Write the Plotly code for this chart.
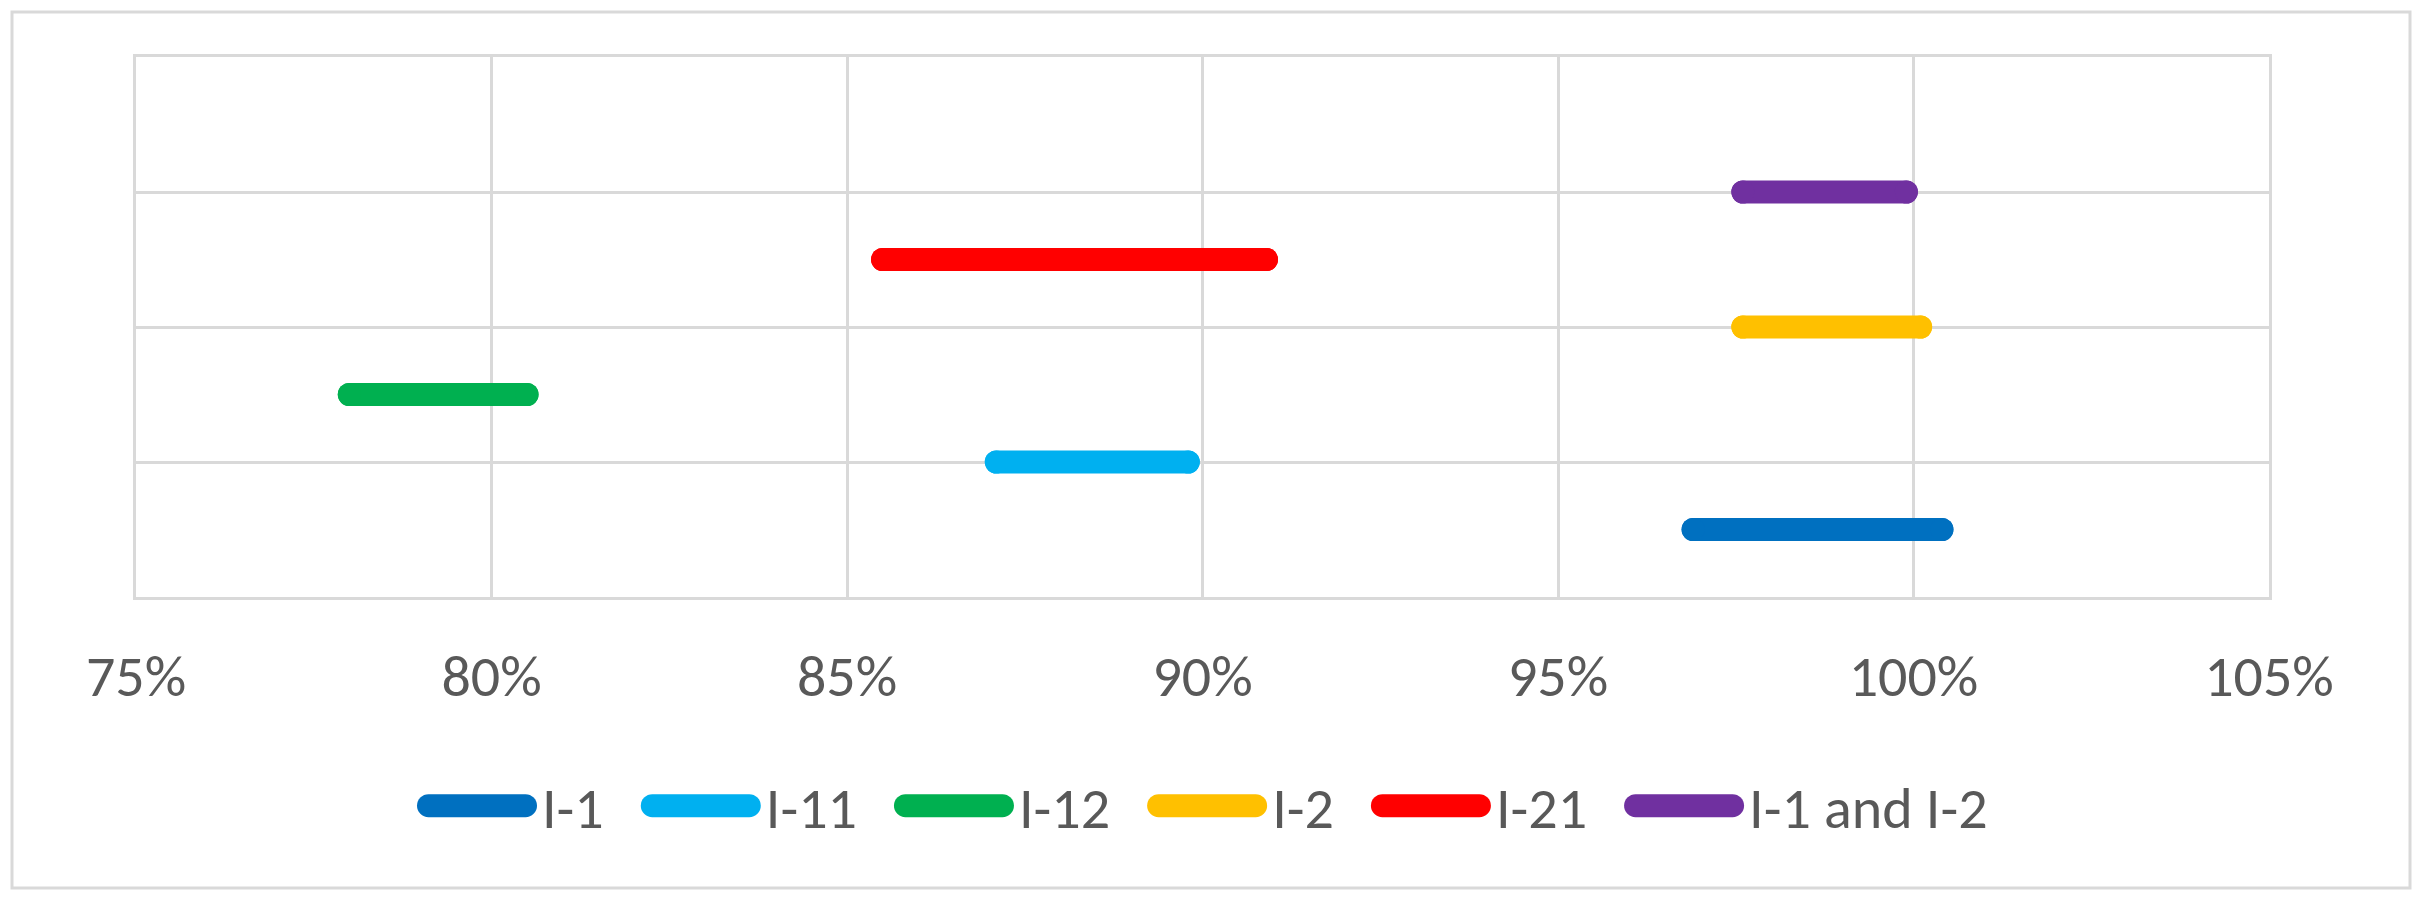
import plotly.graph_objects as go

# ---- data ----
series_names = ["I-1", "I-11", "I-12", "I-2", "I-21", "I-1 and I-2"]
series_y = [0.5, 1.0, 1.5, 2.0, 2.5, 3.0]
range_start = [0.969, 0.871, 0.780, 0.976, 0.855, 0.976]
range_end = [1.004, 0.898, 0.805, 1.001, 0.909, 0.999]
series_colors = ["#0070C0", "#00B0F0", "#00B050", "#FFC000", "#FF0000", "#7030A0"]

x_ticks = [0.75, 0.80, 0.85, 0.90, 0.95, 1.00, 1.05]
x_tick_labels = ["75%", "80%", "85%", "90%", "95%", "100%", "105%"]

# page body has an 8px default margin -> figure is 8px smaller, offsets reduced by 8
OFF = 8
W, H = 2425 - OFF, 911 - OFF
ML, MR, MT, MB = 136 - OFF, 156, 57 - OFF, 314
GRID = "#D9D9D9"
TEXT = "#595959"
FONT = "Calibri, Carlito, Lato, sans-serif"
FS = 58
LW = 23
LEGEND_EXTRA_GAP = 27

fig = go.Figure()
for name, yv, x0, x1, col in zip(series_names, series_y, range_start, range_end, series_colors):
    fig.add_trace(go.Scatter(
        x=[x0, x1], y=[yv, yv], mode="lines", name=name, legendgroup=name,
        line=dict(color=col, width=LW), hoverinfo="name+x",
    ))
    # rounded line caps
    fig.add_trace(go.Scatter(
        x=[x0, x1], y=[yv, yv], mode="markers", name=name, legendgroup=name,
        showlegend=False, hoverinfo="skip",
        marker=dict(color=col, size=LW, symbol="circle", line=dict(width=0)),
    ))

pw = W - ML - MR
ph = H - MT - MB
pb = H - MB  # pixel y of plot bottom (div coords)
# outer chart-area border (decoration)
fig.add_shape(type="rect", xref="paper", yref="paper",
              x0=(12 - OFF - ML) / pw, x1=(2410 - OFF - ML) / pw,
              y0=-(888 - OFF - pb) / ph, y1=(pb - (12 - OFF)) / ph,
              line=dict(color=GRID, width=3), fillcolor="rgba(0,0,0,0)", layer="below")

fig.update_layout(
    width=W, height=H,
    margin=dict(l=ML, r=MR, t=MT, b=MB, pad=0),
    paper_bgcolor="white", plot_bgcolor="white",
    font=dict(family=FONT, color=TEXT, size=FS),
    showlegend=True,
    legend=dict(orientation="h", x=0.5, xanchor="center",
                y=-(806 - OFF - pb) / ph, yanchor="middle",
                font=dict(family=FONT, size=FS, color=TEXT), itemwidth=120,
                bgcolor="rgba(0,0,0,0)", tracegroupgap=0),
    xaxis=dict(range=[0.75, 1.05], tickvals=x_ticks, ticktext=x_tick_labels,
               showgrid=True, gridcolor=GRID, gridwidth=3,
               showline=True, linecolor=GRID, linewidth=3, mirror=True,
               zeroline=False, ticks="outside", ticklen=26, tickcolor="rgba(0,0,0,0)",
               tickfont=dict(family=FONT, size=FS, color=TEXT)),
    yaxis=dict(range=[0, 4], dtick=1, showticklabels=False,
               showgrid=True, gridcolor=GRID, gridwidth=3,
               showline=True, linecolor=GRID, linewidth=3, mirror=True,
               zeroline=False),
)

post = """
var gd = document.getElementById('{plot_id}');
var half = %f;
gd.querySelectorAll('.legend .legendlines path').forEach(function(p){
  var d = p.getAttribute('d') || '';
  var m = d.match(/M([\\d.\\-]+),([\\d.\\-]+)h([\\d.\\-]+)/);
  if (m) {
    var x = parseFloat(m[1]), y = parseFloat(m[2]), l = parseFloat(m[3]);
    p.setAttribute('d', 'M' + (x + half) + ',' + y + 'h' + Math.max(l - 2*half, 1));
  }
  p.style.strokeWidth = '%dpx';
  p.style.strokeLinecap = 'round';
});
gd.querySelectorAll('.scatterlayer .js-line').forEach(function(p){ p.style.strokeLinecap = 'round'; });
var items = gd.querySelectorAll('.legend .traces');
var n = items.length, g = %f;
items.forEach(function(t, i){
  var tr = t.getAttribute('transform') || '';
  var m = tr.match(/translate\\(([\\d.\\-]+)[,\\s]+([\\d.\\-]+)\\)/);
  if (m) {
    t.setAttribute('transform', 'translate(' + (parseFloat(m[1]) + i*g - (n-1)*g/2) + ',' + m[2] + ')');
  }
});
gd.querySelectorAll('.legend .scrollbox').forEach(function(s){ s.removeAttribute('clip-path'); });
""" % (LW / 2.0, LW, LEGEND_EXTRA_GAP)

fig.write_html("out.html", post_script=post)
